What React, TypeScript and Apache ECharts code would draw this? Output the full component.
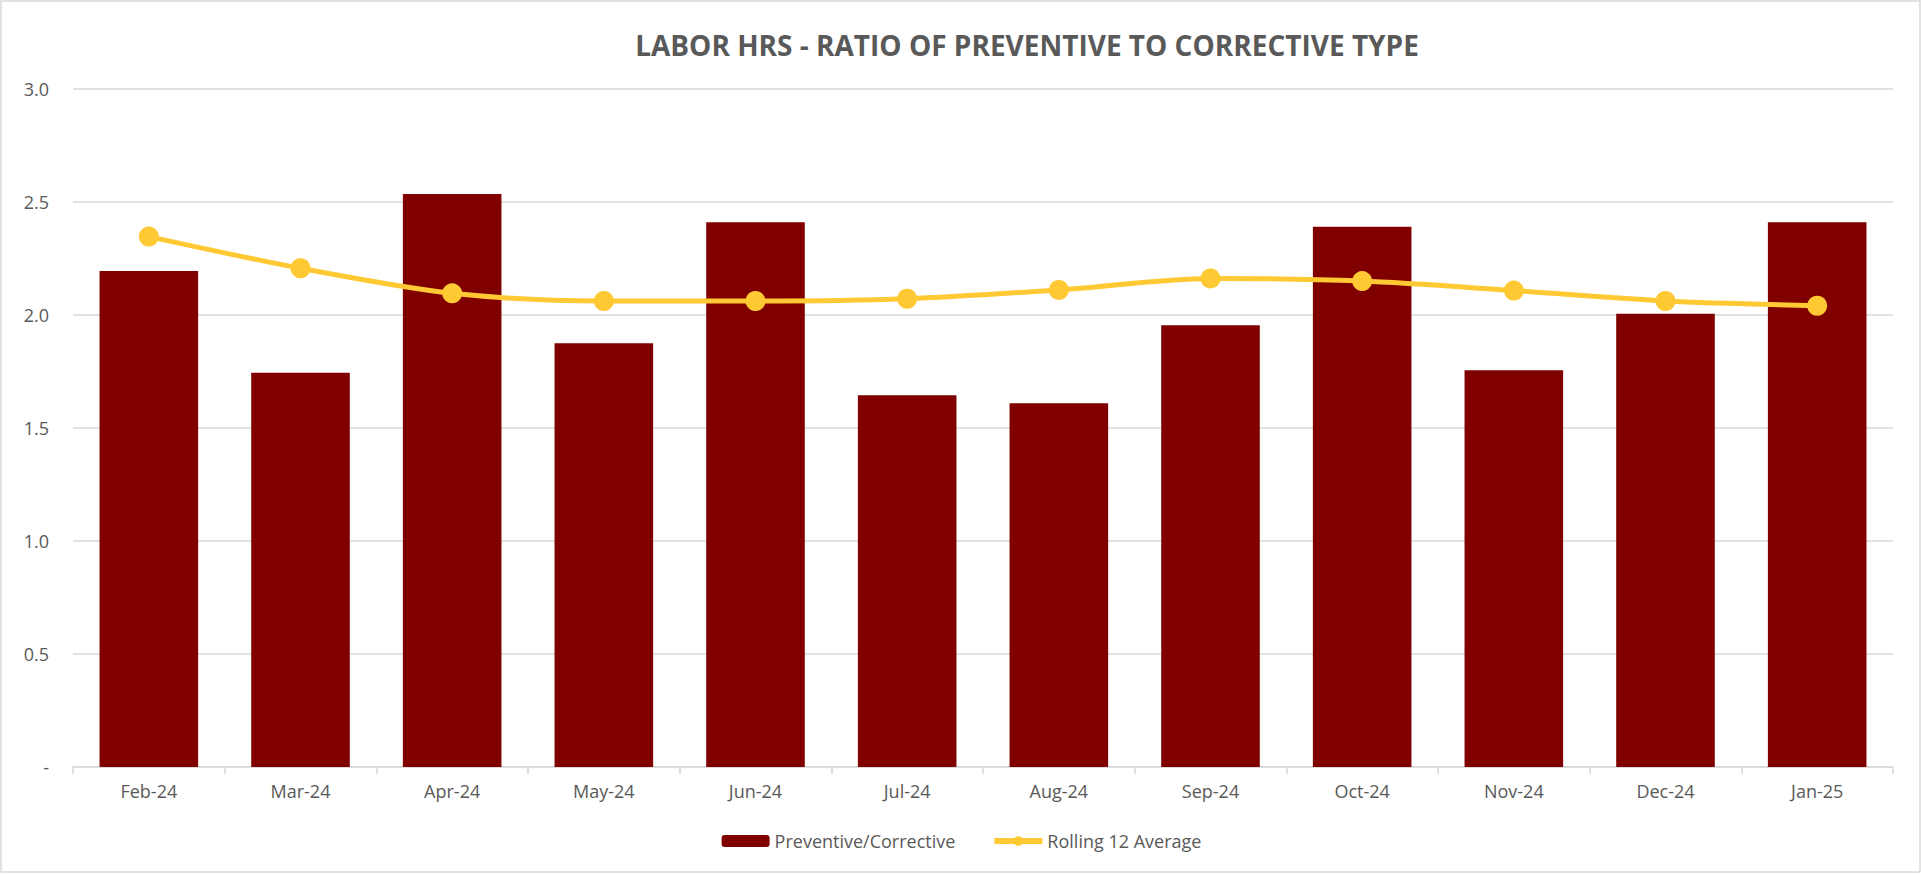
import React, { useEffect, useRef } from "react";
import * as echarts from "echarts";

const categories = ["Feb-24", "Mar-24", "Apr-24", "May-24", "Jun-24", "Jul-24", "Aug-24", "Sep-24", "Oct-24", "Nov-24", "Dec-24", "Jan-25"];
const ratioValues = [2.195, 1.745, 2.535, 1.875, 2.41, 1.645, 1.61, 1.955, 2.39, 1.755, 2.005, 2.41];
const rollingAverage = [2.347, 2.207, 2.096, 2.062, 2.062, 2.072, 2.111, 2.162, 2.15, 2.108, 2.062, 2.041];
const titleText = "LABOR HRS - RATIO OF PREVENTIVE TO CORRECTIVE TYPE";
const seriesNames = ["Preventive/Corrective", "Rolling 12 Average"];

const FONT = "'Open Sans', 'Noto Sans', sans-serif";
const GRAY = "#595959";
const BAR_COLOR = "#800000";
const LINE_COLOR = "#FFC933";

export default function App() {
  const ref = useRef<HTMLDivElement>(null);
  useEffect(() => {
    if (!ref.current) return;
    const chart = echarts.init(ref.current, null, { renderer: "svg" });
    chart.setOption({
      animation: false,
      backgroundColor: "#ffffff",
      textStyle: { fontFamily: FONT },
      title: {
        text: titleText,
        left: 1022,
        textAlign: "center",
        top: 26,
        textStyle: { fontFamily: FONT, fontSize: 28, fontWeight: "bold", color: GRAY },
      },
      graphic: [
        {
          type: "rect",
          shape: { x: 1, y: 1, width: 1919, height: 871 },
          style: { fill: "none", stroke: "#d9d9d9", lineWidth: 1.5 },
          silent: true,
        },
      ],
      grid: { left: 73, right: 30, top: 89, bottom: 108, containLabel: false },
      legend: {
        bottom: 20,
        left: "center",
        itemWidth: 48,
        itemHeight: 12,
        itemGap: 36,
        textStyle: { fontFamily: FONT, fontSize: 18, color: GRAY },
        data: [
          { name: seriesNames[0], itemStyle: { color: BAR_COLOR } },
          {
            name: seriesNames[1],
            lineStyle: { color: LINE_COLOR, width: 6 },
            itemStyle: { color: LINE_COLOR },
          },
        ],
      },
      xAxis: {
        type: "category",
        data: categories,
        axisLine: { lineStyle: { color: "#d9d9d9", width: 1.5 } },
        axisTick: { show: true, alignWithLabel: false, length: 7, lineStyle: { color: "#d9d9d9", width: 1.5 } },
        axisLabel: { color: GRAY, fontSize: 18, fontFamily: FONT, margin: 15 },
      },
      yAxis: {
        type: "value",
        min: 0,
        max: 3,
        interval: 0.5,
        axisLine: { show: false },
        axisTick: { show: false },
        splitLine: { lineStyle: { color: "#d9d9d9", width: 1.5 } },
        axisLabel: {
          color: GRAY,
          fontSize: 18,
          fontFamily: FONT,
          margin: 24,
          formatter: (v: number) => (v === 0 ? "-" : v.toFixed(1)),
        },
      },
      series: [
        {
          name: seriesNames[0],
          type: "bar",
          data: ratioValues,
          barWidth: "65%",
          itemStyle: { color: BAR_COLOR },
        },
        {
          name: seriesNames[1],
          type: "line",
          data: rollingAverage,
          smooth: 0.3,
          symbol: "circle",
          symbolSize: 20,
          lineStyle: { color: LINE_COLOR, width: 5 },
          itemStyle: { color: LINE_COLOR },
        },
      ],
    });
    return () => chart.dispose();
  }, []);
  return (
    <div
      ref={ref}
      style={{ position: "absolute", left: 0, top: 0, width: 1923, height: 875 }}
    />
  );
}
